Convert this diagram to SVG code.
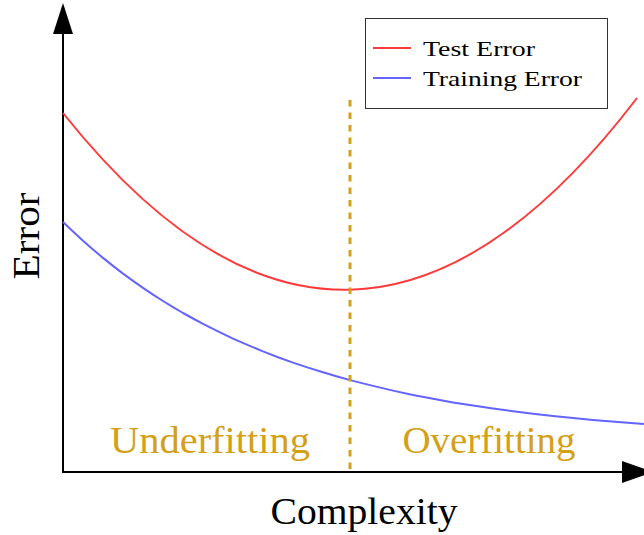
<svg xmlns="http://www.w3.org/2000/svg" width="644" height="535" viewBox="0 0 644 535">
  <style>
    .axis { stroke: #000; stroke-width: 2; fill: none; }
    .head { fill: #000; stroke: none; }
    .curve { fill: none; stroke-width: 2; stroke-linejoin: round; }
    .test { stroke: #ff3a3a; }
    .train { stroke: #6464ff; }
    .divider { stroke: #d4a017; stroke-width: 3; stroke-dasharray: 6.5 6; fill: none; }
    .region { font-family: "Liberation Serif", "DejaVu Serif", serif; font-size: 37px; fill: #d4a017; text-anchor: middle; }
    .label { font-family: "Liberation Serif", "DejaVu Serif", serif; font-size: 37px; fill: #000; text-anchor: middle; }
    .legend-text { font-family: "Liberation Serif", "DejaVu Serif", serif; font-size: 22px; fill: #000; }
  </style>

  <rect width="644" height="535" fill="#fff"/>

  <!-- axes -->
  <g id="axes">
    <line class="axis" x1="63" y1="472" x2="63" y2="30"/>
    <polygon class="head" points="63,3 53,34 73,34"/>
    <line class="axis" x1="62" y1="472" x2="626" y2="472"/>
    <polygon class="head" points="653,472 622,461 622,483"/>
  </g>

  <!-- error curves -->
  <g id="connectors">
    <path id="test-error" class="curve test" d="M63,113 Q350,474 637,98"/>
    <path id="training-error" class="curve train" d="M63,222 L73,231.5 L83,240.8 L93,249.5 L103,257.9 L113,265.9 L123,273.6 L133,280.9 L143,287.9 L153,294.6 L163,301 L173,307.1 L183,313 L193,318.5 L203,323.9 L218,331.4 L233,338.6 L248,345.2 L263,351.4 L278,357.2 L293,362.6 L308,367.6 L323,372.3 L338,376.7 L353,380.9 L373,385.9 L393,390.6 L413,394.9 L433,398.8 L453,402.4 L473,405.6 L493,408.6 L513,411.2 L533,413.7 L553,416 L573,418 L593,419.9 L618,422 L644,424"/>
    <line id="divider" class="divider" x1="350" y1="100" x2="350" y2="470"/>
  </g>

  <!-- region labels -->
  <g id="underfitting">
    <text class="region" x="210" y="453" textLength="200" lengthAdjust="spacingAndGlyphs">Underfitting</text>
  </g>
  <g id="overfitting">
    <text class="region" x="489" y="453" textLength="173" lengthAdjust="spacingAndGlyphs">Overfitting</text>
  </g>

  <!-- axis labels -->
  <g id="x-label">
    <text class="label" x="364" y="524" textLength="187" lengthAdjust="spacingAndGlyphs">Complexity</text>
  </g>
  <g id="y-label">
    <text class="label" transform="translate(39,236) rotate(-90)" x="0" y="0" textLength="87" lengthAdjust="spacingAndGlyphs">Error</text>
  </g>

  <!-- legend -->
  <g id="legend">
    <rect x="365.5" y="18.5" width="242" height="90" fill="#fff" stroke="#333" stroke-width="1"/>
    <line class="curve test" x1="373" y1="48" x2="411" y2="48"/>
    <text class="legend-text" x="423" y="56" textLength="112" lengthAdjust="spacingAndGlyphs">Test Error</text>
    <line class="curve train" x1="373" y1="78" x2="411" y2="78"/>
    <text class="legend-text" x="423" y="86" textLength="159" lengthAdjust="spacingAndGlyphs">Training Error</text>
  </g>
</svg>
